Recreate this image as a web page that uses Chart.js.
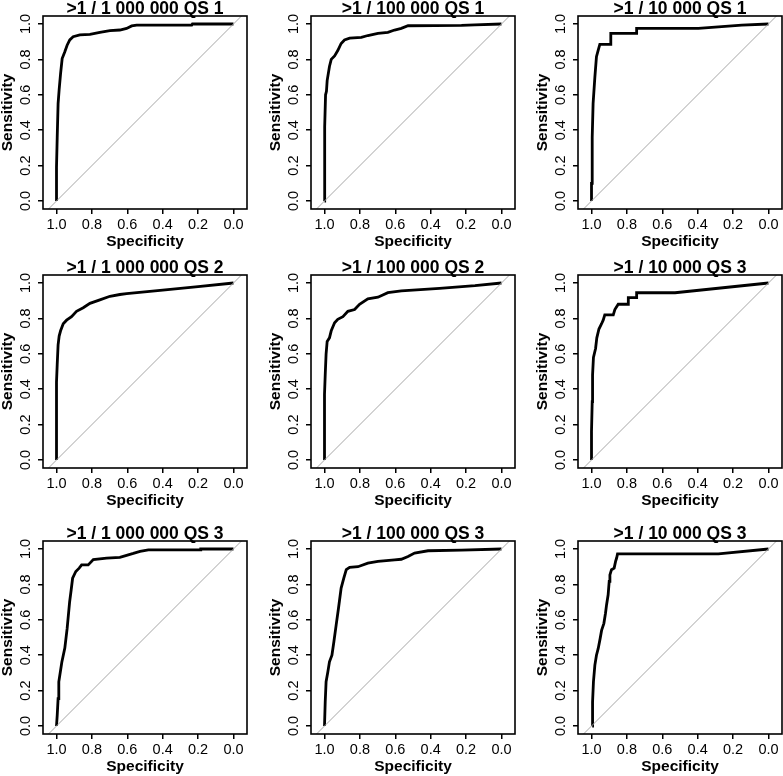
<!DOCTYPE html>
<html>
<head>
<meta charset="utf-8">
<script src="https://cdn.jsdelivr.net/npm/chart.js@4"></script>
<style>
  body { margin: 0; background: #fff; }
  #wrap { position: relative; width: 783px; height: 776px; overflow: hidden; background: #fff; }
  #wrap canvas { position: absolute; }
</style>
</head>
<body>
<div id="wrap"></div>
<script>
// Curvas ROC (especificidad / sensibilidad)
const titles = [
  '>1 / 1 000 000 QS 1', '>1 / 100 000 QS 1', '>1 / 10 000 QS 1',
  '>1 / 1 000 000 QS 2', '>1 / 100 000 QS 2', '>1 / 10 000 QS 3',
  '>1 / 1 000 000 QS 3', '>1 / 100 000 QS 3', '>1 / 10 000 QS 3'
];

const spec1 = [1.0, 1.0, 0.996, 0.991, 0.985, 0.977, 0.968, 0.953, 0.940, 0.925, 0.906, 0.868, 0.811, 0.755, 0.698, 0.642, 0.604, 0.575, 0.547, 0.236, 0.232, 0.0];
const sens1 = [0.0, 0.19, 0.36, 0.55, 0.63, 0.72, 0.805, 0.843, 0.88, 0.91, 0.928, 0.938, 0.941, 0.953, 0.962, 0.966, 0.975, 0.989, 0.994, 0.994, 1.0, 1.0];

const spec2 = [1.0, 1.0, 0.998, 0.994, 0.989, 0.985, 0.972, 0.962, 0.943, 0.925, 0.906, 0.887, 0.858, 0.792, 0.755, 0.698, 0.642, 0.604, 0.566, 0.528, 0.226, 0.151, 0.0];
const sens2 = [0.0, 0.2, 0.42, 0.6, 0.62, 0.68, 0.76, 0.80, 0.82, 0.85, 0.89, 0.91, 0.92, 0.925, 0.935, 0.947, 0.953, 0.966, 0.975, 0.99, 0.992, 0.995, 1.0];

const spec3 = [1.0, 1.0, 0.996, 0.996, 0.991, 0.981, 0.972, 0.962, 0.953, 0.891, 0.891, 0.745, 0.745, 0.396, 0.264, 0.151, 0.0];
const sens3 = [0.0, 0.1, 0.1, 0.36, 0.55, 0.70, 0.815, 0.853, 0.885, 0.885, 0.947, 0.947, 0.975, 0.975, 0.985, 0.994, 1.0];

const spec4 = [1.0, 1.0, 0.996, 0.991, 0.985, 0.977, 0.962, 0.943, 0.915, 0.887, 0.849, 0.811, 0.755, 0.698, 0.642, 0.604, 0.40, 0.20, 0.0];
const sens4 = [0.0, 0.44, 0.54, 0.65, 0.70, 0.73, 0.77, 0.79, 0.81, 0.84, 0.86, 0.885, 0.905, 0.925, 0.935, 0.94, 0.96, 0.98, 1.0];

const spec5 = [1.0, 1.0, 0.996, 0.991, 0.985, 0.972, 0.962, 0.943, 0.925, 0.896, 0.868, 0.830, 0.802, 0.755, 0.698, 0.642, 0.566, 0.35, 0.15, 0.0];
const sens5 = [0.0, 0.37, 0.48, 0.60, 0.67, 0.69, 0.73, 0.775, 0.795, 0.81, 0.84, 0.85, 0.88, 0.91, 0.92, 0.945, 0.955, 0.97, 0.985, 1.0];

const spec6 = [1.0, 1.0, 0.996, 0.994, 0.989, 0.977, 0.970, 0.958, 0.943, 0.934, 0.925, 0.877, 0.868, 0.849, 0.792, 0.792, 0.745, 0.745, 0.528, 0.0];
const sens6 = [0.0, 0.16, 0.33, 0.48, 0.58, 0.63, 0.69, 0.74, 0.77, 0.79, 0.82, 0.82, 0.85, 0.88, 0.88, 0.917, 0.917, 0.945, 0.945, 1.0];

const spec7 = [1.0, 0.996, 0.991, 0.987, 0.970, 0.953, 0.940, 0.926, 0.917, 0.909, 0.891, 0.872, 0.858, 0.821, 0.792, 0.717, 0.642, 0.604, 0.566, 0.528, 0.481, 0.189, 0.185, 0.0];
const sens7 = [0.0, 0.06, 0.155, 0.25, 0.36, 0.44, 0.55, 0.70, 0.77, 0.835, 0.873, 0.892, 0.91, 0.91, 0.94, 0.949, 0.953, 0.964, 0.975, 0.987, 0.995, 0.995, 1.0, 1.0];

const spec8 = [1.0, 0.996, 0.991, 0.981, 0.972, 0.958, 0.947, 0.934, 0.921, 0.906, 0.891, 0.877, 0.858, 0.811, 0.755, 0.698, 0.604, 0.566, 0.528, 0.491, 0.415, 0.226, 0.0];
const sens8 = [0.0, 0.136, 0.25, 0.306, 0.363, 0.40, 0.476, 0.571, 0.665, 0.779, 0.835, 0.883, 0.896, 0.90, 0.92, 0.93, 0.939, 0.942, 0.958, 0.977, 0.99, 0.994, 1.0];

const spec9 = [0.996, 0.994, 0.989, 0.981, 0.972, 0.962, 0.951, 0.943, 0.930, 0.921, 0.915, 0.906, 0.900, 0.896, 0.887, 0.872, 0.864, 0.858, 0.853, 0.283, 0.0];
const sens9 = [0.0, 0.136, 0.25, 0.344, 0.40, 0.438, 0.495, 0.54, 0.58, 0.637, 0.684, 0.741, 0.817, 0.854, 0.883, 0.892, 0.93, 0.949, 0.972, 0.972, 1.0];

const tickValues = [0, 0.2, 0.4, 0.6, 0.8, 1.0];
// linea de referencia (diagonal gris)
const diagSpec = [1.046, -0.046];
const diagSens = [-0.046, 1.046];

const specs = [spec1, spec2, spec3, spec4, spec5, spec6, spec7, spec8, spec9];
const senss = [sens1, sens2, sens3, sens4, sens5, sens6, sens7, sens8, sens9];

/* Layout */
const colLeft = [0, 268, 535];
const rowTop = [0, 259, 525];
const W = 250, H = 255;
const FONT = '"Liberation Sans", Arial, Helvetica, sans-serif';

Chart.defaults.font.family = FONT;
Chart.defaults.color = '#000';

// caja, etiquetas Y rotadas y titulo (estilo R)
const rocDecor = {
  id: 'rocDecor',
  afterDraw(chart, args, opts) {
    const { ctx, chartArea: a } = chart;
    const y = chart.scales.y;
    ctx.save();
    ctx.strokeStyle = '#000';
    ctx.lineWidth = 1.6;
    ctx.strokeRect(a.left, a.top, a.right - a.left, a.bottom - a.top);

    ctx.fillStyle = '#000';
    ctx.font = '14.5px ' + FONT;
    ctx.textAlign = 'center';
    ctx.textBaseline = 'middle';
    tickValues.forEach(v => {
      ctx.save();
      ctx.translate(a.left - 17, y.getPixelForValue(v));
      ctx.rotate(-Math.PI / 2);
      ctx.fillText(v.toFixed(1), 0, 0);
      ctx.restore();
    });

    ctx.font = 'bold 17.5px ' + FONT;
    ctx.textBaseline = 'alphabetic';
    ctx.fillText(opts.title, (a.left + a.right) / 2, a.top - 2.5);
    ctx.restore();
  }
};

function toPoints(xs, ys) {
  return xs.map((x, i) => ({ x, y: ys[i] }));
}

function setTicks(scale) {
  scale.ticks = tickValues.map(v => ({ value: v }));
}

const wrap = document.getElementById('wrap');

titles.forEach((title, i) => {
  const canvas = document.createElement('canvas');
  canvas.width = W;
  canvas.height = H;
  canvas.style.left = colLeft[i % 3] + 'px';
  canvas.style.top = rowTop[Math.floor(i / 3)] + 'px';
  canvas.style.width = W + 'px';
  canvas.style.height = H + 'px';
  wrap.appendChild(canvas);

  new Chart(canvas, {
    type: 'scatter',
    data: {
      datasets: [
        {
          data: toPoints(diagSpec, diagSens),
          showLine: true,
          borderColor: '#a6a6a6',
          borderWidth: 1,
          pointRadius: 0
        },
        {
          data: toPoints(specs[i], senss[i]),
          showLine: true,
          borderColor: '#000',
          borderWidth: 2.8,
          pointRadius: 0,
          tension: 0
        }
      ]
    },
    options: {
      responsive: false,
      animation: false,
      devicePixelRatio: 1,
      layout: { padding: { top: 16, right: 3, left: 0, bottom: 0 } },
      plugins: {
        legend: { display: false },
        tooltip: { enabled: false },
        rocDecor: { title }
      },
      scales: {
        x: {
          type: 'linear',
          reverse: true,
          min: -0.0763,
          max: 1.0763,
          afterBuildTicks: setTicks,
          afterFit: s => { s.height = 46; },
          grid: { drawOnChartArea: false, drawTicks: true, tickLength: 5, color: '#000', lineWidth: 1.5 },
          border: { display: false },
          ticks: { padding: 2, maxRotation: 0, font: { size: 14.5 }, callback: v => v.toFixed(1) },
          title: {
            display: true,
            text: 'Specificity',
            font: { size: 15.5, weight: 'bold', lineHeight: 1 },
            padding: { top: 0, bottom: 6 }
          }
        },
        y: {
          type: 'linear',
          min: -0.0452,
          max: 1.0452,
          afterBuildTicks: setTicks,
          afterFit: s => { s.width = 43; },
          grid: { drawOnChartArea: false, drawTicks: true, tickLength: 5, color: '#000', lineWidth: 1.5 },
          border: { display: false },
          ticks: { display: false },
          title: {
            display: true,
            text: 'Sensitivity',
            font: { size: 15.5, weight: 'bold', lineHeight: 1 },
            padding: { top: 0, bottom: 0 }
          }
        }
      }
    },
    plugins: [rocDecor]
  });
});
</script>
</body>
</html>
